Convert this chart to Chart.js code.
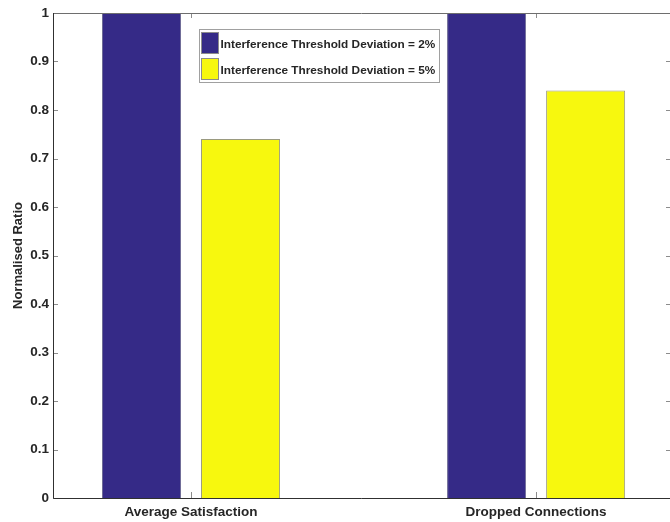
<!DOCTYPE html>
<html>
<head>
<meta charset="utf-8">
<script src="https://cdn.jsdelivr.net/npm/chart.js@4.4.1/dist/chart.umd.min.js"></script>
<style>
  html, body { margin: 0; padding: 0; background: #fff; }
  #chart { display: block; }
</style>
</head>
<body>
<canvas id="chart" width="670" height="522"></canvas>
<script>
// data
const categories = ['Average Satisfaction', 'Dropped Connections'];
const catPositions = [1, 2];
const dev2 = [1, 1];
const dev5 = [0.74, 0.84];
const yTicks = [0, 0.1, 0.2, 0.3, 0.4, 0.5, 0.6, 0.7, 0.8, 0.9, 1];
const seriesLabels = ['Interference Threshold Deviation = 2%', 'Interference Threshold Deviation = 5%'];

const NAVY = '#352a87';
const YELLOW = '#f7f80e';
const FONT = "'Liberation Sans', Arial, sans-serif";
const TXT = '#262626';

function points(vals){
  return vals.map((v, i) => ({x: catPositions[i], y: v}));
}

// matlab style box with inward ticks
const axesBox = {
  id: 'axesBox',
  afterDatasetsDraw(chart){
    const ctx = chart.ctx;
    const a = chart.chartArea;
    const xs = chart.scales.x, ys = chart.scales.y;
    ctx.save();
    ctx.lineWidth = 1;
    // ticks
    ctx.strokeStyle = '#8c8c8c';
    ctx.beginPath();
    yTicks.forEach(t => {
      const py = Math.round(ys.getPixelForValue(t)) + 0.5;
      ctx.moveTo(a.left, py); ctx.lineTo(a.left + 5, py);
      ctx.moveTo(a.right, py); ctx.lineTo(a.right - 4, py);
    });
    catPositions.forEach(p => {
      const px = Math.round(xs.getPixelForValue(p)) + 0.5;
      ctx.moveTo(px, a.bottom); ctx.lineTo(px, a.bottom - 6);
      ctx.moveTo(px, a.top); ctx.lineTo(px, a.top + 5);
    });
    ctx.stroke();
    // top line
    ctx.strokeStyle = '#6e6e6e';
    ctx.beginPath();
    ctx.moveTo(a.left, a.top + 0.5); ctx.lineTo(a.right, a.top + 0.5);
    ctx.stroke();
    // left + bottom
    ctx.strokeStyle = '#303030';
    ctx.beginPath();
    ctx.moveTo(a.left + 0.5, a.top); ctx.lineTo(a.left + 0.5, a.bottom + 0.5);
    ctx.lineTo(a.right, a.bottom + 0.5);
    ctx.stroke();
    ctx.restore();
  },
  afterDraw(chart){
    // legend box
    const ctx = chart.ctx;
    const a = chart.chartArea;
    const bx = a.left + 146.5, by = a.top + 16.5, bw = 240, bh = 53;
    ctx.save();
    ctx.fillStyle = '#fff';
    ctx.fillRect(bx, by, bw, bh);
    ctx.strokeStyle = '#a0a0a0';
    ctx.lineWidth = 1;
    ctx.strokeRect(bx, by, bw, bh);
    ctx.font = 'bold 11.8px ' + FONT;
    ctx.textBaseline = 'middle';
    chart.data.datasets.forEach((ds, i) => {
      const sy = by + 3 + i * 26;
      ctx.fillStyle = ds.backgroundColor;
      ctx.fillRect(bx + 2, sy, 17, 21);
      ctx.strokeStyle = '#8c8c8c';
      ctx.strokeRect(bx + 2, sy, 17, 21);
      ctx.fillStyle = TXT;
      ctx.fillText(ds.label, bx + 21, sy + 12);
    });
    ctx.restore();
  }
};

new Chart(document.getElementById('chart'), {
  type: 'bar',
  data: {
    datasets: [{
      label: seriesLabels[0],
      data: points(dev2),
      backgroundColor: NAVY,
      borderColor: '#6f6c96',
      borderWidth: 1,
      categoryPercentage: 0.574,
      barPercentage: 0.798
    }, {
      label: seriesLabels[1],
      data: points(dev5),
      backgroundColor: YELLOW,
      borderColor: '#9a9a80',
      borderWidth: 1,
      categoryPercentage: 0.574,
      barPercentage: 0.798
    }]
  },
  options: {
    responsive: false,
    animation: false,
    layout: { padding: { top: 13, right: 0, left: 0, bottom: 0 } },
    plugins: { legend: { display: false }, tooltip: { enabled: false } },
    scales: {
      x: {
        type: 'linear',
        offset: false,
        min: 0.6,
        max: 2.388,
        grid: { display: false, offset: false, drawTicks: false },
        border: { display: false },
        afterBuildTicks: s => { s.ticks = catPositions.map(v => ({value: v})); },
        afterFit: s => { s.height = 24; s.paddingLeft = 0; s.paddingRight = 0; },
        ticks: {
          autoSkip: false,
          maxRotation: 0,
          padding: 6,
          color: TXT,
          font: { family: FONT, size: 13.5, weight: 'bold' },
          callback: v => categories[catPositions.indexOf(v)]
        }
      },
      y: {
        min: 0,
        max: 1,
        grid: { display: false, drawTicks: false },
        border: { display: false },
        afterBuildTicks: s => { s.ticks = yTicks.map(v => ({value: v})); },
        afterFit: s => { s.width = 53; s.paddingTop = 0; s.paddingBottom = 0; },
        ticks: {
          padding: 4,
          color: TXT,
          font: { family: FONT, size: 13.5, weight: 'bold' },
          callback: v => String(+v.toFixed(1))
        },
        title: {
          display: true,
          text: 'Normalised Ratio',
          color: TXT,
          font: { family: FONT, size: 13, weight: 'bold' },
          padding: { top: 11, bottom: 0 }
        }
      }
    }
  },
  plugins: [axesBox]
});
</script>
</body>
</html>
